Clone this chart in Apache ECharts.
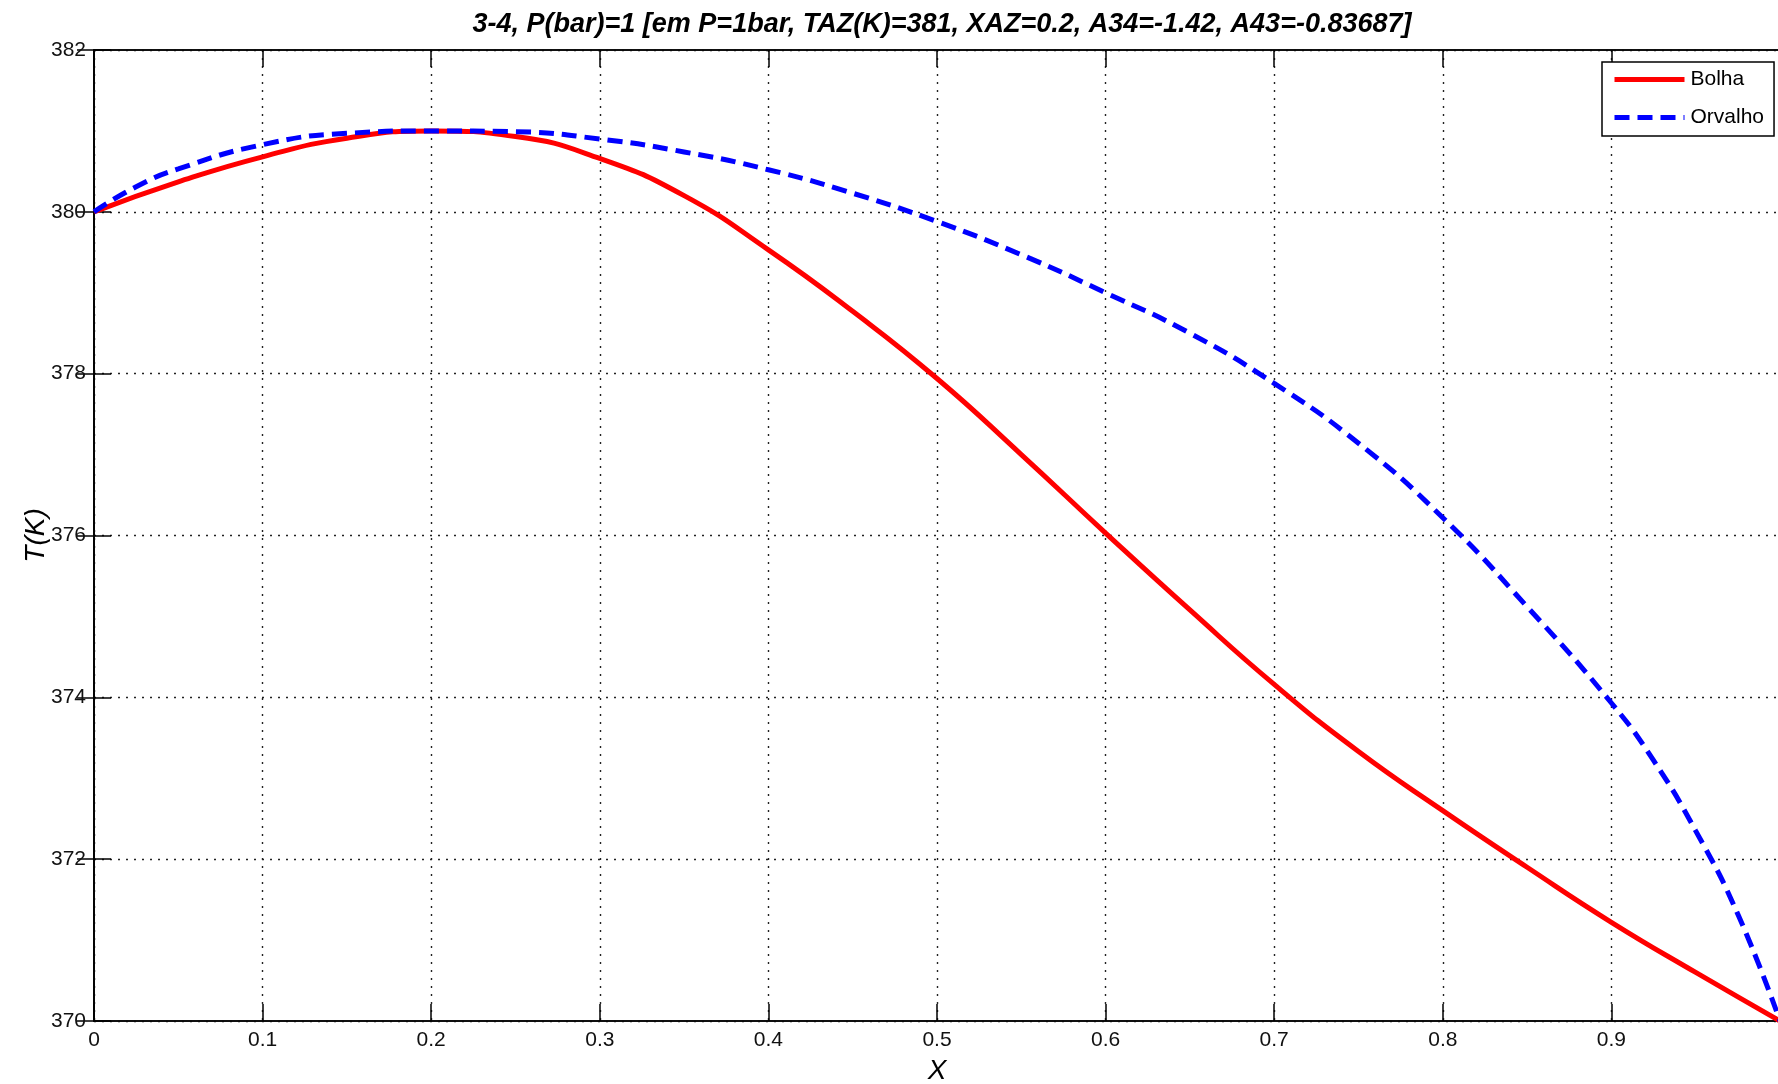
<!DOCTYPE html>
<html>
<head>
<meta charset="utf-8">
<script src="https://cdn.jsdelivr.net/npm/echarts@6/dist/echarts.min.js"></script>
<style>
  html, body { margin: 0; padding: 0; background: #fff; }
  #chart { width: 1778px; height: 1084px; }
</style>
</head>
<body>
<div id="chart"></div>
<script>
// Bubble-point curve (Bolha): liquid composition x vs temperature T(K)
const xBolha = [0, 0.05, 0.10, 0.15, 0.20, 0.25, 0.30, 0.35, 0.40, 0.45, 0.50,
                0.55, 0.60, 0.65, 0.70, 0.75, 0.80, 0.85, 0.90, 0.95, 1.00];
const tBolha = [380.00, 380.37, 380.68, 380.91, 381.00, 380.93, 380.66, 380.20, 379.53, 378.77, 377.94,
                377.00, 376.03, 375.08, 374.16, 373.33, 372.60, 371.90, 371.22, 370.60, 370.00];

// Dew-point curve (Orvalho)
const xOrvalho = [0, 0.025, 0.05, 0.10, 0.15, 0.20, 0.25, 0.30, 0.35, 0.40, 0.45, 0.50,
                  0.55, 0.60, 0.65, 0.70, 0.75, 0.80, 0.85, 0.90, 0.925, 0.95, 0.975, 1.00];
const tOrvalho = [380.00, 380.31, 380.53, 380.83, 380.97, 381.00, 380.99, 380.90, 380.74, 380.52, 380.23, 379.88,
                  379.47, 379.00, 378.50, 377.88, 377.14, 376.22, 375.12, 373.93, 373.22, 372.35, 371.32, 370.00];

const xTicks = ['0', '0.1', '0.2', '0.3', '0.4', '0.5', '0.6', '0.7', '0.8', '0.9', '1'];
const yTicks = ['370', '372', '374', '376', '378', '380', '382'];

const chartTitle = '3-4, P(bar)=1 [em P=1bar, TAZ(K)=381, XAZ=0.2, A34=-1.42, A43=-0.83687]';

const pairs = (xs, ys) => xs.map((x, i) => [x, ys[i]]);

const FONT = '"Liberation Sans", Arial, sans-serif';
const gridDots = { type: [2, 6], color: '#222', width: 1.4 };
const tickStyle = { show: true, inside: true, length: 17, lineStyle: { color: '#000', width: 1.5 } };

const chart = echarts.init(document.getElementById('chart'), null, { renderer: 'canvas' });

chart.setOption({
  animation: false,
  backgroundColor: '#ffffff',
  title: {
    text: chartTitle,
    left: 937,
    top: 6,
    textAlign: 'center',
    textStyle: { fontFamily: FONT, fontSize: 27, fontStyle: 'italic', fontWeight: 'bold', color: '#000' }
  },
  legend: {
    orient: 'vertical',
    left: 1602,
    top: 62,
    width: 171,
    padding: [7, 10, 8, 10],
    itemWidth: 70,
    itemHeight: 20,
    itemGap: 17,
    backgroundColor: '#fff',
    borderColor: '#000',
    borderWidth: 1.5,
    itemStyle: { opacity: 0 },
    lineStyle: { width: 5 },
    textStyle: { fontFamily: FONT, fontSize: 21, color: '#000', padding: [0, 0, 0, 1] },
    data: ['Bolha', 'Orvalho']
  },
  grid: {
    left: 94,
    top: 50,
    width: 1686,
    height: 971,
    outerBoundsMode: 'none',
    containLabel: false,
    show: true,
    borderColor: '#000',
    borderWidth: 1.5,
    backgroundColor: '#fff'
  },
  xAxis: [{
    type: 'value',
    min: 0,
    max: 1,
    interval: 0.1,
    name: 'X',
    nameLocation: 'middle',
    nameGap: 36,
    nameMoveOverlap: false,
    nameTextStyle: { fontFamily: FONT, fontSize: 28, fontStyle: 'italic', color: '#000' },
    axisLine: { show: true, onZero: false, lineStyle: { color: '#000', width: 1.5 } },
    axisTick: tickStyle,
    axisLabel: {
      margin: 9,
      showMaxLabel: false,
      fontFamily: FONT, fontSize: 21, color: '#111',
      formatter: (v) => xTicks[Math.round(v * 10)]
    },
    splitLine: { show: true, lineStyle: gridDots }
  }, {
    type: 'value',
    position: 'top',
    min: 0,
    max: 1,
    interval: 0.1,
    axisLine: { show: true, lineStyle: { color: '#000', width: 1.5 } },
    axisTick: tickStyle,
    axisLabel: { show: false },
    splitLine: { show: false }
  }],
  yAxis: [{
    type: 'value',
    min: 370,
    max: 382,
    interval: 2,
    name: 'T(K)',
    nameLocation: 'middle',
    nameGap: 44,
    nameRotate: 90,
    nameMoveOverlap: false,
    nameTextStyle: { fontFamily: FONT, fontSize: 28, fontStyle: 'italic', color: '#000' },
    axisLine: { show: true, onZero: false, lineStyle: { color: '#000', width: 1.5 } },
    axisTick: tickStyle,
    axisLabel: {
      margin: 8,
      fontFamily: FONT, fontSize: 21, color: '#111',
      formatter: (v) => yTicks[Math.round((v - 370) / 2)]
    },
    splitLine: { show: true, lineStyle: gridDots }
  }, {
    type: 'value',
    position: 'right',
    min: 370,
    max: 382,
    interval: 2,
    axisLine: { show: true, lineStyle: { color: '#000', width: 1.5 } },
    axisTick: tickStyle,
    axisLabel: { show: false },
    splitLine: { show: false }
  }],
  series: [{
    name: 'Bolha',
    type: 'line',
    data: pairs(xBolha, tBolha),
    smooth: 0.5,
    symbol: 'none',
    lineStyle: { color: '#ff0000', width: 5 },
    itemStyle: { color: '#ff0000' },
    z: 3
  }, {
    name: 'Orvalho',
    type: 'line',
    data: pairs(xOrvalho, tOrvalho),
    smooth: 0.5,
    symbol: 'none',
    lineStyle: { color: '#0000ff', width: 5, type: [15, 8] },
    itemStyle: { color: '#0000ff' },
    z: 4
  }]
});
</script>
</body>
</html>
